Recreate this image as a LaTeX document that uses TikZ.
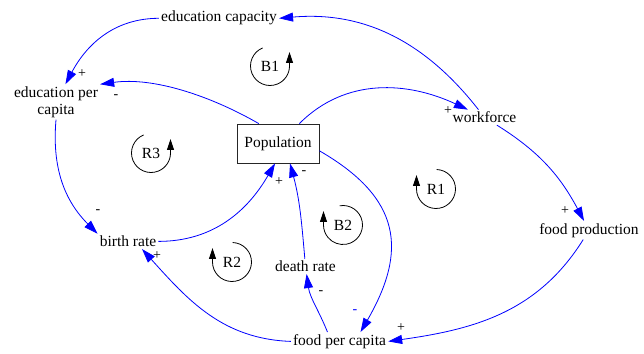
\documentclass[tikz,border=0pt]{standalone}
\usepackage{fontspec}
\setmainfont{Liberation Serif}
\usetikzlibrary{arrows.meta}
\begin{document}
\begin{tikzpicture}[x=1pt,y=1pt,
  var/.style={inner sep=2pt, font=\fontsize{15.5}{17}\selectfont},
  stock/.style={draw=black!85, line width=0.8pt, minimum width=82pt, minimum height=39pt, inner sep=0pt, font=\fontsize{15.5}{17}\selectfont},
  link/.style={draw=blue, line width=0.8pt, -{Triangle[length=14pt,width=9pt]}},
  pol/.style={inner sep=0pt, font=\fontsize{14}{14}\selectfont},
  loopline/.style={line width=0.8pt, -{Triangle[length=11pt,width=7pt]}},
  looplabel/.style={inner sep=0pt, font=\fontsize{15.5}{17}\selectfont},
]
\useasboundingbox (0,0) rectangle (644,353);
% variables
\node[var] (ec) at (219,334.7) {education capacity};
\node[var, align=center] (epc) at (56,251) {education per\\capita};
\node[stock] (pop) at (278,209.5) {Population};
\node[var] (wf) at (484.5,235.6) {workforce};
\node[var] (fp) at (589,122.7) {food production};
\node[var] (fpc) at (339.5,11.6) {food per capita};
\node[var] (br) at (128,111.6) {birth rate};
\node[var] (dr) at (305.5,86.6) {death rate};
% links
\draw[link] (wf) to[out=128,in=5] (ec.east);
\draw[link] (ec.west) to[out=180,in=62] (epc);
\draw[link] (pop.134) to[out=150,in=8,looseness=0.85] (epc.north east);
\draw[link] (pop.43) to[out=45,in=155] (wf);
\draw[link] (wf) to[out=-32,in=118] (fp);
\draw[link] (fp) to[out=-122,in=8] (fpc.east);
\draw[link] (pop.-10) to[out=-30,in=60,looseness=1.3] ([xshift=21pt]fpc.north);
\draw[link] ([xshift=-12pt]fpc.north) to[out=112,in=-82] (dr);
\draw[link] (dr) to[out=95,in=-75] ([xshift=12pt]pop.south);
\draw[link] (fpc.west) to[out=178,in=-48] ([xshift=14pt]br.south);
\draw[link] (br.east) to[out=0,in=-120] ([xshift=-3pt]pop.south);
\draw[link] (epc.south) to[out=-95,in=135] (br.north west);
% polarities
\node[pol] (p1) at (82,279) {+};
\node[pol] (p2) at (116,256) {-};
\node[pol] (p3) at (448,242) {+};
\node[pol] (p4) at (279,171) {+};
\node[pol] (p5) at (304,180) {-};
\node[pol] (p6) at (98,141) {-};
\node[pol] (p7) at (157,97) {+};
\node[pol] (p8) at (321,60) {-};
\node[pol] (p9) at (565,142) {+};
\node[pol, text=blue] (p10) at (355,41) {-};
\node[pol] (p11) at (401,25) {+};
% loops
\node[looplabel] (b1) at (270,287) {B1};
\node[looplabel] (r3) at (151,200) {R3};
\node[looplabel] (r2) at (232,91) {R2};
\node[looplabel] (b2) at (343,128) {B2};
\node[looplabel] (r1) at (436,164) {R1};
\draw[loopline] (b1) ++(112:19.5) arc[start angle=112,end angle=360,radius=19.5] -- ++(0,14);
\draw[loopline] (r3) ++(112:19.5) arc[start angle=112,end angle=360,radius=19.5] -- ++(0,14);
\draw[loopline] (r2) ++(88:19.5) arc[start angle=88,end angle=-180,radius=19.5] -- ++(0,14);
\draw[loopline] (b2) ++(100:19.5) arc[start angle=100,end angle=-180,radius=19.5] -- ++(0,14);
\draw[loopline] (r1) ++(88:19.5) arc[start angle=88,end angle=-180,radius=19.5] -- ++(0,14);
\end{tikzpicture}
\end{document}
